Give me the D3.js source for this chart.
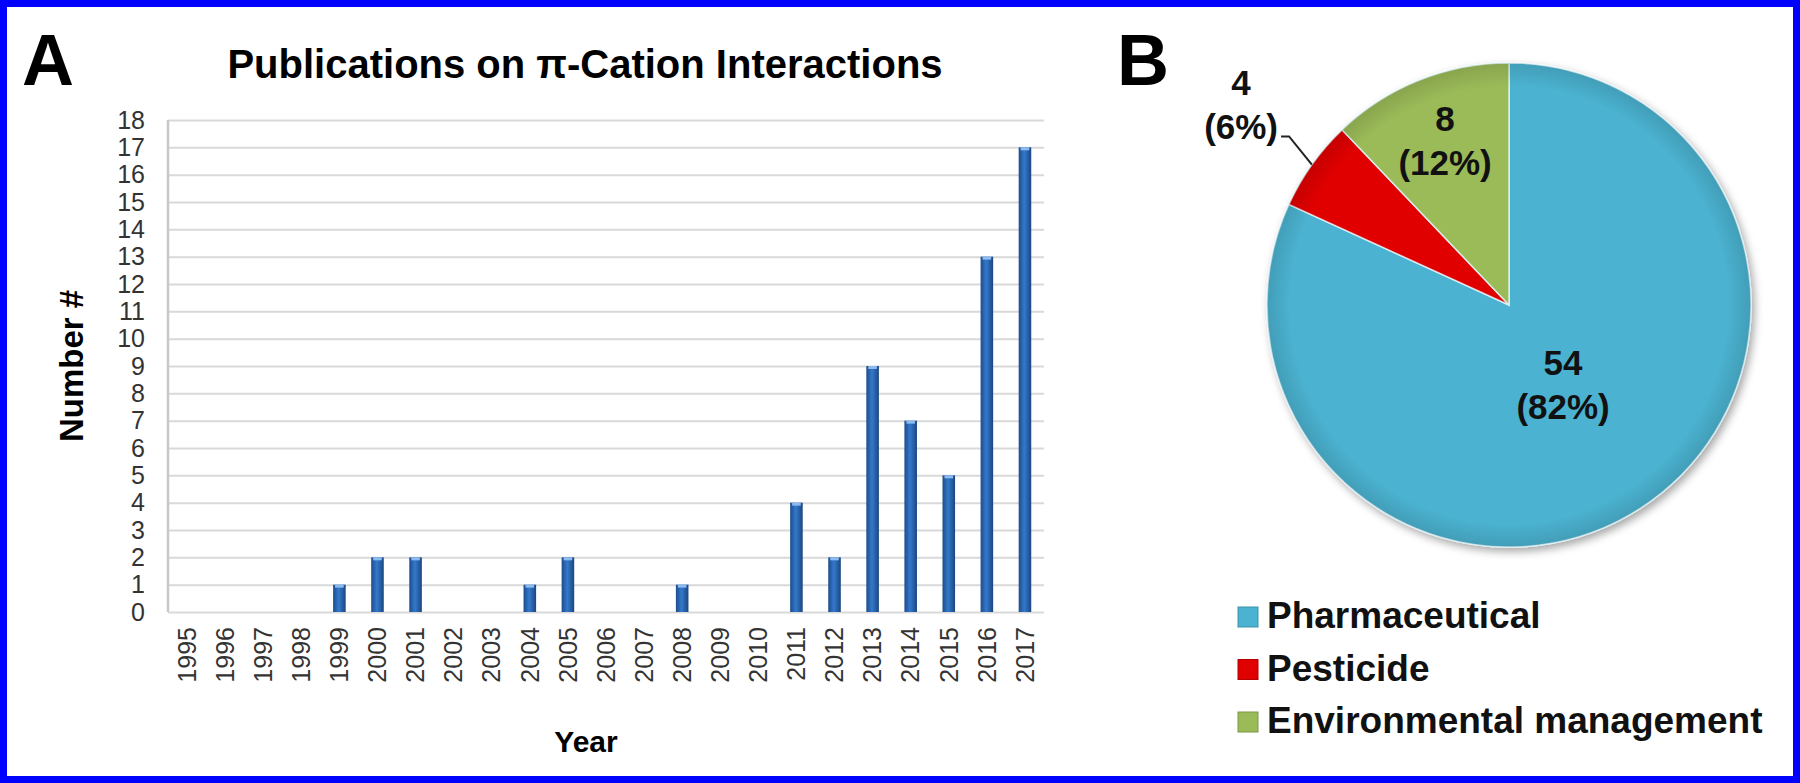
<!DOCTYPE html>
<html>
<head>
<meta charset="utf-8">
<script src="https://cdn.jsdelivr.net/npm/d3@7"></script>
<style>
  html, body { margin: 0; padding: 0; background: #fff; }
  svg { display: block; font-family: "Liberation Sans", Arial, sans-serif; }
</style>
</head>
<body>
<svg id="chart" width="1800" height="783"></svg>
<script>
// Panel A data
const years = ['1995','1996','1997','1998','1999','2000','2001','2002','2003','2004','2005','2006',
  '2007','2008','2009','2010','2011','2012','2013','2014','2015','2016','2017'];
const counts = [0,0,0,0,1,2,2,0,0,1,2,0,0,1,0,0,4,2,9,7,5,13,17];
const yTicks = d3.range(0, 19);

// Panel B data
const categories = ['Pharmaceutical', 'Pesticide', 'Environmental management'];
const catValues = [54, 4, 8];
const catPercents = ['82%', '6%', '12%'];
const catColors = ['#4bb3d1', '#e00000', '#9bbb59'];

const svg = d3.select('#chart');
const defs = svg.append('defs');

// bar gradient (cylinder look)
const bg = defs.append('linearGradient').attr('id', 'barGrad')
  .attr('x1', '0%').attr('x2', '100%').attr('y1', '0%').attr('y2', '0%');
bg.append('stop').attr('offset', '0%').attr('stop-color', '#1d4c8c');
bg.append('stop').attr('offset', '45%').attr('stop-color', '#3479cc');
bg.append('stop').attr('offset', '100%').attr('stop-color', '#1b4680');

const shadow = defs.append('filter').attr('id', 'pieShadow')
  .attr('x', '-10%').attr('y', '-10%').attr('width', '125%').attr('height', '125%');
shadow.append('feDropShadow').attr('dx', 3).attr('dy', 4).attr('stdDeviation', 4)
  .attr('flood-color', '#000').attr('flood-opacity', 0.35);

const bevel = defs.append('radialGradient').attr('id', 'bevel')
  .attr('cx', '50%').attr('cy', '50%').attr('r', '50%');
bevel.append('stop').attr('offset', '90%').attr('stop-color', '#000').attr('stop-opacity', 0);
bevel.append('stop').attr('offset', '100%').attr('stop-color', '#000').attr('stop-opacity', 0.12);

// ---------- Panel A ----------
const plot = { left: 168, right: 1044, top: 120, bottom: 612 };

const x = d3.scaleBand()
  .domain(years)
  .range([plot.left, plot.right])
  .paddingInner(0.67)
  .paddingOuter(0.335);

const y = d3.scaleLinear()
  .domain([0, 18])
  .range([plot.bottom, plot.top]);

// gridlines
const grid = svg.append('g')
  .attr('transform', `translate(${plot.left},0)`)
  .call(d3.axisLeft(y).tickValues(yTicks).tickSize(-(plot.right - plot.left)).tickFormat(''));
grid.select('.domain').remove();
grid.selectAll('line').attr('stroke', '#d9d9d9').attr('stroke-width', 2);

// left axis line
svg.append('line')
  .attr('x1', plot.left).attr('x2', plot.left)
  .attr('y1', y(18)).attr('y2', y(0))
  .attr('stroke', '#c8c8c8').attr('stroke-width', 2.5);

// y axis labels
const yAxis = svg.append('g')
  .attr('transform', `translate(${plot.left},0)`)
  .call(d3.axisLeft(y).tickValues(yTicks).tickSize(0).tickPadding(23).tickFormat(d3.format('d')));
yAxis.select('.domain').remove();
yAxis.selectAll('text')
  .style('font-size', '25px')
  .style('font-family', '"Liberation Sans", Arial, sans-serif')
  .attr('fill', '#333');

// x axis labels
const xAxis = svg.append('g')
  .attr('transform', `translate(0,${plot.bottom})`)
  .call(d3.axisBottom(x).tickSize(0));
xAxis.select('.domain').remove();
xAxis.selectAll('text')
  .attr('transform', 'rotate(-90)')
  .attr('x', -15)
  .attr('y', 0)
  .attr('dy', '0.35em')
  .style('text-anchor', 'end')
  .style('font-size', '25px')
  .style('font-family', '"Liberation Sans", Arial, sans-serif')
  .attr('fill', '#333');

// bars
const barData = years.map((yr, i) => ({ year: yr, count: counts[i] })).filter(d => d.count > 0);
svg.selectAll('.bar')
  .data(barData)
  .enter()
  .append('rect')
  .attr('class', 'bar')
  .attr('x', d => x(d.year))
  .attr('y', d => y(d.count))
  .attr('width', x.bandwidth())
  .attr('height', d => y(0) - y(d.count))
  .attr('fill', 'url(#barGrad)');

// bar top highlight
svg.selectAll('.bar-top')
  .data(barData)
  .enter()
  .append('rect')
  .attr('class', 'bar-top')
  .attr('x', d => x(d.year) + 2)
  .attr('y', d => y(d.count))
  .attr('width', x.bandwidth() - 4)
  .attr('height', 3)
  .attr('fill', '#8dbbf0');

// titles
svg.append('text')
  .attr('x', 585).attr('y', 78)
  .attr('text-anchor', 'middle')
  .style('font-size', '40px').style('font-weight', 'bold')
  .text('Publications on π-Cation Interactions');

svg.append('text')
  .attr('x', 586).attr('y', 752)
  .attr('text-anchor', 'middle')
  .style('font-size', '30px').style('font-weight', 'bold')
  .text('Year');

svg.append('text')
  .attr('transform', `translate(83,${(plot.top + plot.bottom) / 2}) rotate(-90)`)
  .attr('text-anchor', 'middle')
  .style('font-size', '33px').style('font-weight', 'bold')
  .text('Number #');

svg.append('text')
  .attr('x', 22).attr('y', 85)
  .style('font-size', '72px').style('font-weight', 'bold')
  .text('A');

// ---------- Panel B ----------
svg.append('text')
  .attr('x', 1117).attr('y', 85)
  .style('font-size', '72px').style('font-weight', 'bold')
  .text('B');

const cx = 1509, cy = 305, r = 242;
const pie = d3.pie().sort(null).value(d => d);
const arcs = pie(catValues);
const arc = d3.arc().innerRadius(0).outerRadius(r);

const pg = svg.append('g').attr('transform', `translate(${cx},${cy})`);

pg.append('g').attr('filter', 'url(#pieShadow)')
  .selectAll('path')
  .data(arcs)
  .enter()
  .append('path')
  .attr('d', arc)
  .attr('fill', (d, i) => catColors[i])
  .attr('stroke', 'rgba(230,250,255,0.8)')
  .attr('stroke-width', 1.5);

pg.append('circle').attr('r', r).attr('fill', 'url(#bevel)');

// labels inside / outside
const labelR = [100, 0, 172];
arcs.forEach((d, i) => {
  const mid = (d.startAngle + d.endAngle) / 2;
  let lx, ly;
  if (i === 1) {
    // outside label with leader line
    const p0 = [Math.sin(mid) * r, -Math.cos(mid) * r];
    const p1 = [Math.sin(mid) * 270, -Math.cos(mid) * 270 - 12];
    const p2 = [p1[0] - 8, p1[1]];
    pg.append('polyline')
      .attr('points', [p0, p1, p2].map(p => p.join(',')).join(' '))
      .attr('fill', 'none').attr('stroke', '#222').attr('stroke-width', 2);
    lx = p2[0] - 40;
    ly = p2[1] - 27;
  } else {
    lx = Math.sin(mid) * labelR[i];
    ly = -Math.cos(mid) * labelR[i];
  }
  const t = pg.append('text')
    .attr('text-anchor', 'middle')
    .style('font-size', '35px').style('font-weight', 'bold')
    .attr('fill', '#111');
  t.append('tspan').attr('x', lx).attr('y', ly - 14).text(catValues[i]);
  t.append('tspan').attr('x', lx).attr('y', ly + 30).text(`(${catPercents[i]})`);
});

// legend
const legend = svg.append('g').attr('transform', 'translate(1238,628)');
categories.forEach((c, i) => {
  const row = legend.append('g').attr('transform', `translate(0,${i * 52.5})`);
  row.append('rect')
    .attr('x', 0).attr('y', -21)
    .attr('width', 20).attr('height', 20)
    .attr('fill', catColors[i])
    .attr('stroke', d3.color(catColors[i]).darker(0.6))
    .attr('stroke-width', 1);
  row.append('text')
    .attr('x', 29).attr('y', 0)
    .style('font-size', '37px').style('font-weight', 'bold')
    .attr('fill', '#111')
    .text(c);
});

// blue frame
svg.append('rect')
  .attr('x', 3.5).attr('y', 3.5)
  .attr('width', 1793).attr('height', 776)
  .attr('fill', 'none')
  .attr('stroke', '#0000ff')
  .attr('stroke-width', 7);
</script>
</body>
</html>
